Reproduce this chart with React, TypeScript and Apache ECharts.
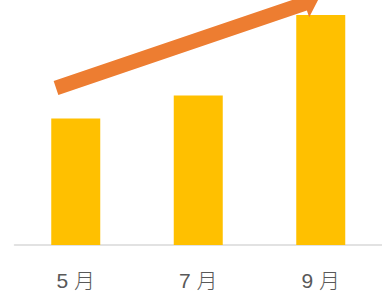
import React, { useEffect, useRef } from "react";
import * as echarts from "echarts";

const categories = ["5 月", "7 月", "9 月"];
const values = [55, 65, 100];
const yMax = 100;

export default function App() {
  const ref = useRef<HTMLDivElement>(null);
  useEffect(() => {
    if (!ref.current) return;
    const chart = echarts.init(ref.current, null, { renderer: "svg" });

    // arrow annotation geometry
    const S = [56, 88];
    const ang = Math.atan(0.34);
    const d = [Math.cos(ang), -Math.sin(ang)];
    const n = [Math.sin(ang), Math.cos(ang)];
    const w = 7.3, W = 14.5, L = 262.5, H = 15;
    const pt = (a: number, b: number) => [S[0] + a * d[0] + b * n[0], S[1] + a * d[1] + b * n[1]];
    const arrow = [pt(0, -w), pt(L, -w), pt(L, -W), pt(L + H, 0), pt(L, W), pt(L, w), pt(0, w)];

    chart.setOption({
      animation: false,
      grid: { left: 14.5, top: 15, width: 372, height: 230 },
      xAxis: {
        type: "category",
        data: categories,
        axisLine: { show: true, lineStyle: { color: "#D9D9D9", width: 1.5 } },
        axisTick: { show: false },
        axisLabel: {
          color: "#595959",
          fontSize: 21,
          lineHeight: 21,
          margin: 25,
          fontFamily: "'Liberation Sans', 'Noto Sans CJK JP'",
          fontWeight: 300,
        },
      },
      yAxis: {
        type: "value",
        min: 0,
        max: yMax,
        show: false,
        splitLine: { show: false },
      },
      series: [
        {
          type: "bar",
          data: values,
          barWidth: 49,
          itemStyle: { color: "#FFC000" },
        },
      ],
      graphic: [
        {
          type: "polygon",
          shape: { points: arrow },
          style: { fill: "#ED7D31" },
          z: 10,
        },
      ],
    });
    return () => chart.dispose();
  }, []);
  return (
    <div
      ref={ref}
      style={{ position: "fixed", left: 0, top: 0, width: 382, height: 293, background: "#fff" }}
    />
  );
}
